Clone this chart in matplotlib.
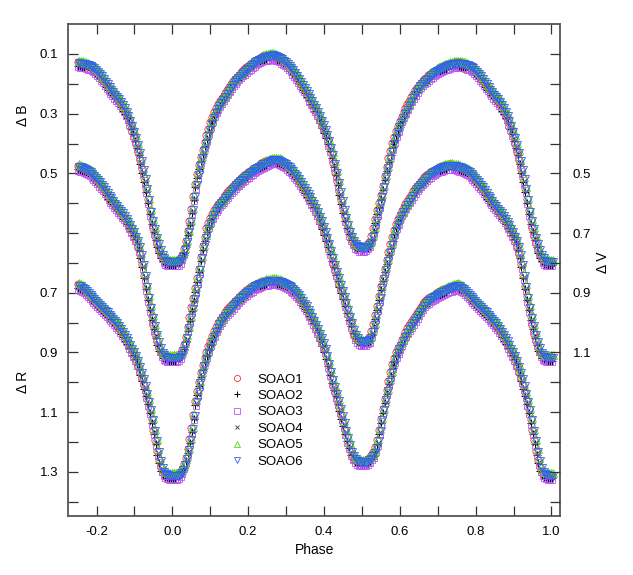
import numpy as np
import matplotlib
matplotlib.use("Agg")
import matplotlib.pyplot as plt
from matplotlib.ticker import FixedLocator, MultipleLocator

plt.rcParams['font.family'] = ['Liberation Sans', 'DejaVu Sans']
plt.rcParams['axes.unicode_minus'] = False

# ---------------- data ----------------
PHASE = np.round(np.arange(0, 201) * 0.005, 3)          # 0.000 .. 1.000

DELTA_B = [0.800, 0.800, 0.800, 0.797, 0.790, 0.778, 0.760, 0.733, 0.700, 0.665,
           0.625, 0.582, 0.540, 0.507, 0.478, 0.452, 0.428, 0.402, 0.378, 0.356,
           0.335, 0.317, 0.300, 0.287, 0.275, 0.265, 0.255, 0.246, 0.237, 0.226,
           0.215, 0.205, 0.196, 0.189, 0.182, 0.176, 0.170, 0.163, 0.157, 0.151,
           0.145, 0.140, 0.135, 0.130, 0.126, 0.122, 0.118, 0.115, 0.112, 0.111,
           0.110, 0.108, 0.107, 0.108, 0.110, 0.113, 0.116, 0.120, 0.124, 0.129,
           0.135, 0.142, 0.150, 0.157, 0.165, 0.175, 0.185, 0.195, 0.205, 0.215,
           0.225, 0.236, 0.248, 0.260, 0.272, 0.284, 0.296, 0.310, 0.325, 0.340,
           0.357, 0.375, 0.395, 0.417, 0.440, 0.470, 0.500, 0.533, 0.565, 0.595,
           0.625, 0.651, 0.675, 0.697, 0.715, 0.729, 0.740, 0.746, 0.750, 0.752,
           0.752, 0.751, 0.748, 0.743, 0.735, 0.715, 0.690, 0.660, 0.630, 0.605,
           0.580, 0.548, 0.515, 0.485, 0.455, 0.430, 0.405, 0.385, 0.365, 0.348,
           0.332, 0.317, 0.302, 0.288, 0.275, 0.262, 0.250, 0.239, 0.228, 0.219,
           0.210, 0.203, 0.196, 0.190, 0.185, 0.178, 0.172, 0.167, 0.162, 0.158,
           0.155, 0.151, 0.148, 0.145, 0.142, 0.140, 0.138, 0.136, 0.135, 0.134,
           0.133, 0.134, 0.135, 0.136, 0.138, 0.140, 0.143, 0.146, 0.150, 0.156,
           0.162, 0.169, 0.177, 0.186, 0.195, 0.204, 0.213, 0.222, 0.230, 0.238,
           0.245, 0.253, 0.262, 0.272, 0.283, 0.295, 0.309, 0.325, 0.343, 0.362,
           0.383, 0.407, 0.433, 0.461, 0.491, 0.522, 0.555, 0.592, 0.630, 0.662,
           0.690, 0.717, 0.740, 0.759, 0.775, 0.787, 0.795, 0.798, 0.800, 0.800,
           0.800]

DELTA_V = [1.120, 1.120, 1.120, 1.117, 1.110, 1.098, 1.080, 1.053, 1.020, 0.988,
           0.955, 0.922, 0.890, 0.857, 0.825, 0.787, 0.750, 0.718, 0.690, 0.672,
           0.655, 0.641, 0.628, 0.619, 0.610, 0.602, 0.595, 0.586, 0.578, 0.570,
           0.562, 0.554, 0.547, 0.541, 0.535, 0.529, 0.523, 0.517, 0.512, 0.507,
           0.502, 0.497, 0.493, 0.488, 0.484, 0.480, 0.476, 0.472, 0.469, 0.466,
           0.464, 0.461, 0.458, 0.457, 0.457, 0.458, 0.460, 0.463, 0.467, 0.471,
           0.476, 0.482, 0.488, 0.495, 0.503, 0.511, 0.520, 0.530, 0.540, 0.550,
           0.560, 0.571, 0.582, 0.593, 0.605, 0.618, 0.632, 0.647, 0.662, 0.680,
           0.700, 0.720, 0.740, 0.762, 0.785, 0.808, 0.832, 0.854, 0.875, 0.895,
           0.915, 0.937, 0.960, 0.983, 1.005, 1.027, 1.045, 1.055, 1.062, 1.066,
           1.068, 1.067, 1.065, 1.061, 1.055, 1.035, 1.010, 0.980, 0.950, 0.918,
           0.885, 0.855, 0.825, 0.796, 0.768, 0.742, 0.718, 0.696, 0.676, 0.660,
           0.645, 0.632, 0.620, 0.609, 0.598, 0.587, 0.577, 0.566, 0.556, 0.548,
           0.540, 0.533, 0.526, 0.519, 0.513, 0.507, 0.502, 0.498, 0.494, 0.490,
           0.487, 0.484, 0.482, 0.480, 0.478, 0.477, 0.476, 0.476, 0.477, 0.478,
           0.480, 0.482, 0.484, 0.487, 0.490, 0.493, 0.497, 0.503, 0.510, 0.517,
           0.525, 0.532, 0.540, 0.548, 0.557, 0.567, 0.578, 0.586, 0.595, 0.603,
           0.612, 0.620, 0.628, 0.636, 0.645, 0.654, 0.664, 0.675, 0.687, 0.700,
           0.714, 0.730, 0.750, 0.776, 0.808, 0.845, 0.882, 0.918, 0.952, 0.985,
           1.015, 1.043, 1.068, 1.088, 1.103, 1.112, 1.117, 1.119, 1.120, 1.120,
           1.120]

DELTA_R = [1.315, 1.315, 1.315, 1.311, 1.305, 1.295, 1.280, 1.258, 1.230, 1.197,
           1.160, 1.115, 1.068, 1.035, 1.005, 0.975, 0.948, 0.925, 0.905, 0.886,
           0.868, 0.851, 0.835, 0.821, 0.808, 0.798, 0.788, 0.779, 0.770, 0.762,
           0.755, 0.748, 0.741, 0.734, 0.728, 0.721, 0.715, 0.709, 0.703, 0.698,
           0.693, 0.688, 0.684, 0.680, 0.677, 0.674, 0.671, 0.669, 0.667, 0.665,
           0.664, 0.663, 0.662, 0.662, 0.662, 0.663, 0.665, 0.667, 0.670, 0.673,
           0.676, 0.680, 0.684, 0.689, 0.695, 0.702, 0.710, 0.719, 0.728, 0.738,
           0.748, 0.759, 0.770, 0.782, 0.795, 0.810, 0.825, 0.840, 0.855, 0.872,
           0.890, 0.915, 0.940, 0.967, 0.995, 1.018, 1.040, 1.065, 1.090, 1.115,
           1.140, 1.165, 1.190, 1.213, 1.235, 1.250, 1.260, 1.265, 1.268, 1.270,
           1.270, 1.270, 1.268, 1.264, 1.258, 1.250, 1.240, 1.222, 1.200, 1.165,
           1.130, 1.096, 1.062, 1.031, 1.000, 0.972, 0.945, 0.924, 0.905, 0.892,
           0.880, 0.865, 0.850, 0.837, 0.825, 0.815, 0.805, 0.795, 0.785, 0.775,
           0.765, 0.755, 0.745, 0.737, 0.730, 0.725, 0.720, 0.716, 0.712, 0.708,
           0.705, 0.701, 0.698, 0.695, 0.692, 0.689, 0.687, 0.684, 0.682, 0.680,
           0.678, 0.681, 0.685, 0.690, 0.695, 0.702, 0.710, 0.716, 0.722, 0.730,
           0.737, 0.743, 0.750, 0.756, 0.762, 0.768, 0.775, 0.782, 0.790, 0.797,
           0.805, 0.813, 0.822, 0.832, 0.842, 0.853, 0.865, 0.877, 0.890, 0.902,
           0.915, 0.932, 0.950, 0.970, 0.990, 1.015, 1.040, 1.067, 1.095, 1.130,
           1.165, 1.200, 1.235, 1.265, 1.290, 1.302, 1.310, 1.313, 1.315, 1.315,
           1.315]

SERIES = ['SOAO1', 'SOAO2', 'SOAO3', 'SOAO4', 'SOAO5', 'SOAO6']
SERIES_MAG_OFFSET = [-0.006, 0.007, 0.012, 0.003, -0.010, -0.002]
SERIES_PHASE_OFFSET = [0.0, 0.0008, 0.0017, 0.0025, 0.0033, 0.0042]

R_SHIFT = 0.2          # Delta R curve is drawn 0.2 lower on the common axis
B_TICKS = [0.1, 0.3, 0.5]
R_TICKS = [0.7, 0.9, 1.1, 1.3]
V_TICKS = [0.5, 0.7, 0.9, 1.1]
X_TICKS = [-0.2, 0.0, 0.2, 0.4, 0.6, 0.8, 1.0]

# ---------------- styles ----------------
STYLES = [
    dict(marker='o', mfc='none', mec='#ff2a2a', ms=5.2, mew=0.6, zorder=2.0),
    dict(marker='+', mfc='none', mec='#000000', ms=5.2, mew=0.7, zorder=1.5),
    dict(marker='s', mfc='none', mec='#c055f5', ms=4.6, mew=0.6, zorder=2.1),
    dict(marker='x', mfc='none', mec='#333333', ms=4.0, mew=0.6, zorder=1.6),
    dict(marker='^', mfc='none', mec='#44e010', ms=5.4, mew=0.6, zorder=2.3),
    dict(marker='v', mfc='none', mec='#2e5cff', ms=5.4, mew=0.6, zorder=2.5),
]

fig = plt.figure(figsize=(6.33, 5.75), dpi=100)
ax = fig.add_axes([68 / 633, 1 - 516 / 575, (560.3 - 68) / 633, (516 - 24) / 575])

ph = np.asarray(PHASE)
wrap = ph >= 0.75
for name, moff, poff, st in zip(SERIES, SERIES_MAG_OFFSET, SERIES_PHASE_OFFSET, STYLES):
    xs, ys = [], []
    for mags, shift in ((DELTA_B, 0.0), (DELTA_V, 0.0), (DELTA_R, R_SHIFT)):
        m = np.asarray(mags) + moff + shift
        xs.append(ph + poff)
        ys.append(m)
        xs.append(ph[wrap] - 1.0 + poff)
        ys.append(m[wrap])
    ax.plot(np.concatenate(xs), np.concatenate(ys), linestyle='none', label=name, **st)

ax.set_xlim(-0.2753, 1.0234)
ax.set_ylim(1.648, -0.0005)

# x ticks
ax.xaxis.set_major_locator(FixedLocator(X_TICKS))
ax.set_xticklabels([f'{t:.1f}' for t in X_TICKS])
ax.xaxis.set_minor_locator(MultipleLocator(0.1))

# left y ticks: Delta B on top, Delta R below
left_pos = B_TICKS + [v + R_SHIFT for v in R_TICKS]
left_lab = [f'{v:.1f}' for v in B_TICKS] + [f'{v:.1f}' for v in R_TICKS]
ax.yaxis.set_major_locator(FixedLocator(left_pos))
ax.set_yticklabels(left_lab)
ax.yaxis.set_minor_locator(FixedLocator(np.round(np.arange(0.1, 1.61, 0.1), 2)))

spine_col = '#555555'
for s in ax.spines.values():
    s.set_color(spine_col)
    s.set_linewidth(1.3)

ax.tick_params(which='both', direction='in', length=7, width=0.9, color='#333333',
               top=True, right=False, labelsize=9.5)
ax.tick_params(axis='x', which='both', pad=7)
ax.tick_params(axis='y', which='both', pad=7)

# right axis: Delta V
ax2 = ax.twinx()
ax2.set_ylim(ax.get_ylim())
ax2.yaxis.set_major_locator(FixedLocator(V_TICKS))
ax2.set_yticklabels([f'{v:.1f}' for v in V_TICKS])
ax2.yaxis.set_minor_locator(FixedLocator(np.round(np.arange(0.1, 1.61, 0.1), 2)))
ax2.tick_params(which='both', direction='in', length=7, width=0.9, color='#333333',
                labelsize=9.5, pad=9)
for s in ax2.spines.values():
    s.set_visible(False)

ax.set_xlabel('Phase', fontsize=10, labelpad=4)
fig.text(23 / 633, 1 - 115 / 575, '\u0394 B', rotation=90, ha='center', va='center', fontsize=10)
fig.text(23 / 633, 1 - 382 / 575, '\u0394 R', rotation=90, ha='center', va='center', fontsize=10)
fig.text(603 / 633, 1 - 262 / 575, '\u0394 V', rotation=90, ha='center', va='center', fontsize=10)

ax.legend(loc='upper left', bbox_to_anchor=(0.329, 0.290), frameon=False, numpoints=1,
          handlelength=1.0, handletextpad=1.1, labelspacing=0.32, borderpad=0,
          borderaxespad=0, fontsize=9.5, markerscale=0.85)

fig.savefig('out.png', dpi=100)
